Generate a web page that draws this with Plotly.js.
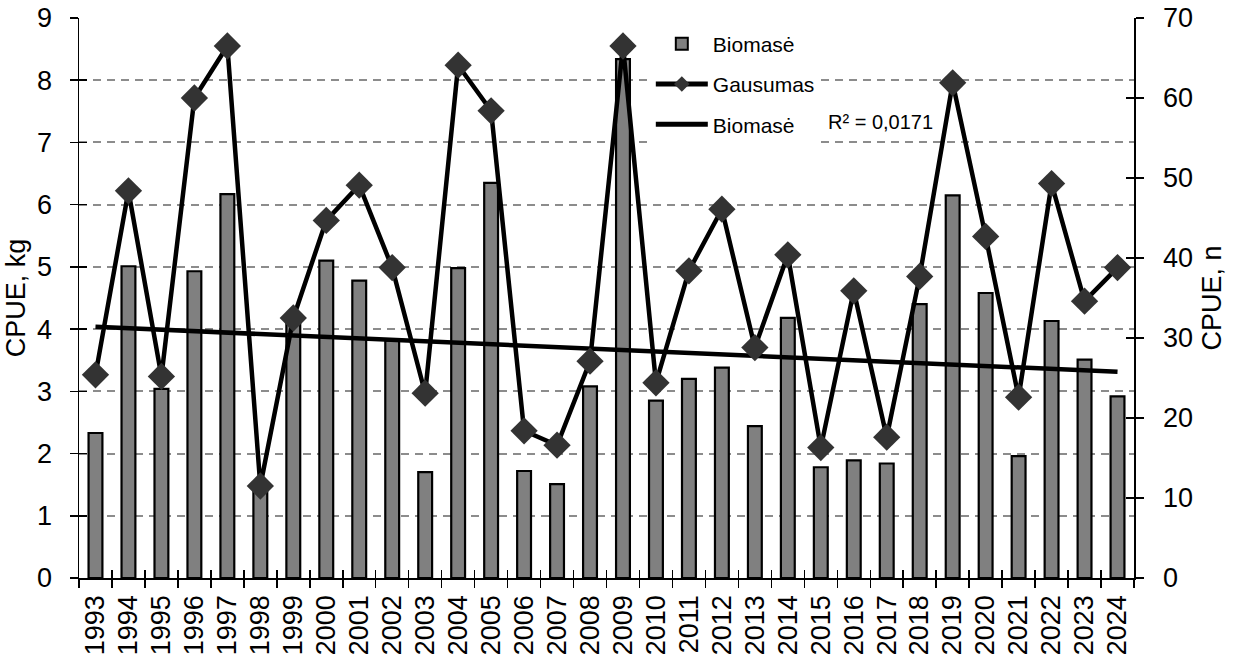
<!DOCTYPE html>
<html>
<head>
<meta charset="utf-8">
<script src="https://cdn.plot.ly/plotly-3.0.1.min.js"></script>
<style>html,body{margin:0;padding:0;background:#fff;}#chart{width:1239px;height:660px;}</style>
</head>
<body>
<div id="chart"></div>
<script>
const years = ['1993','1994','1995','1996','1997','1998','1999','2000','2001','2002','2003','2004','2005','2006','2007','2008','2009','2010','2011','2012','2013','2014','2015','2016','2017','2018','2019','2020','2021','2022','2023','2024'];
const biomass = [2.33,5.01,3.04,4.93,6.17,1.45,4.10,5.10,4.78,3.82,1.70,4.98,6.35,1.72,1.51,3.08,8.34,2.85,3.20,3.38,2.44,4.18,1.78,1.89,1.84,4.40,6.15,4.58,1.96,4.13,3.51,2.92];
const abundance = [25.4,48.4,25.2,60.0,66.5,11.5,32.5,44.7,49.1,38.8,23.1,64.1,58.4,18.4,16.6,27.1,66.5,24.4,38.4,46.1,28.8,40.4,16.3,35.9,17.6,37.7,61.9,42.7,22.6,49.3,34.6,38.8];
const leftTicks = [0,1,2,3,4,5,6,7,8,9];
const rightTicks = [0,10,20,30,40,50,60,70];
const r2Label = 'R² = 0,0171';
const legendNames = ['Biomasė','Gausumas','Biomasė'];
const yTitleLeft = 'CPUE, kg';
const yTitleRight = 'CPUE, n';

// linear least-squares trend of biomass (as Excel's linear trendline)
const n = biomass.length;
const idx = biomass.map((_, i) => i);
const mx = idx.reduce((a, b) => a + b, 0) / n;
const my = biomass.reduce((a, b) => a + b, 0) / n;
let sxy = 0, sxx = 0;
idx.forEach((x, i) => { sxy += (x - mx) * (biomass[i] - my); sxx += (x - mx) * (x - mx); });
const slope = sxy / sxx;
const icpt = my - slope * mx;
const trendX = [years[0], years[n - 1]];
const trendY = [icpt, icpt + slope * (n - 1)];

const font = 'Liberation Sans, Arial, sans-serif';

const traces = [
  {type: 'bar', x: years, y: biomass, name: legendNames[0], xaxis: 'x', yaxis: 'y',
   width: 0.42, marker: {color: '#808080', line: {color: '#000', width: 2.2}},
   legendgroup: 'a', legendrank: 1, hoverinfo: 'skip'},
  {type: 'scatter', mode: 'lines', x: trendX, y: trendY, name: legendNames[2], xaxis: 'x', yaxis: 'y',
   line: {color: '#000', width: 4.5}, legendgroup: 'c', legendrank: 3, hoverinfo: 'skip'},
  {type: 'scatter', mode: 'lines+markers', x: years, y: abundance, name: legendNames[1], xaxis: 'x', yaxis: 'y2',
   line: {color: '#000', width: 4.5}, marker: {symbol: 'diamond', size: 21, color: '#333333', line: {width: 0}},
   legendgroup: 'b', legendrank: 2, hoverinfo: 'skip'},
  {type: 'scatter', mode: 'markers', x: years, y: biomass, xaxis: 'x2', yaxis: 'y3', showlegend: false,
   marker: {opacity: 0}, hoverinfo: 'skip'},
  {type: 'scatter', mode: 'markers', x: years, y: abundance, xaxis: 'x2', yaxis: 'y4', showlegend: false,
   marker: {opacity: 0}, hoverinfo: 'skip'}
];

const tickFont = {family: font, size: 27, color: '#000'};
const titleFont = {family: font, size: 27, color: '#000'};

const layout = {
  width: 1239, height: 660,
  margin: {l: 79, r: 105, t: 18, b: 82, pad: 0},
  paper_bgcolor: '#fff', plot_bgcolor: '#fff',
  font: {family: font, color: '#000'},
  showlegend: true,
  legend: {x: 0.542, y: 0.99, xanchor: 'left', yanchor: 'top', bgcolor: '#fff', borderwidth: 0,
           font: {family: font, size: 21, color: '#000'}, traceorder: 'grouped', tracegroupgap: 10,
           itemsizing: 'constant', itemwidth: 52},
  xaxis: {type: 'category', categoryorder: 'array', categoryarray: years, range: [-0.5, 31.5],
          tickson: 'boundaries', ticks: 'outside', ticklen: 8, tickwidth: 1.5, tickcolor: '#000',
          showline: true, linecolor: '#000', linewidth: 1.5, showgrid: false, zeroline: false,
          tickangle: -90, tickfont: tickFont, ticklabelstandoff: 5},
  yaxis: {range: [0, 9], tickvals: leftTicks, ticks: 'outside', ticklen: 8, tickwidth: 1.5, tickcolor: '#000',
          showline: true, linecolor: '#000', linewidth: 1.5, showgrid: true, gridcolor: '#8c8c8c', gridwidth: 2,
          griddash: '8px,6px', zeroline: false, tickfont: tickFont, ticklabelstandoff: 12,
          title: {text: yTitleLeft, font: titleFont, standoff: 3}},
  yaxis2: {range: [0, 70], tickvals: rightTicks, overlaying: 'y', side: 'right', anchor: 'x',
           ticks: 'outside', ticklen: 8, tickwidth: 1.5, tickcolor: '#000',
           showline: true, linecolor: '#000', linewidth: 1.5, showgrid: false, zeroline: false,
           tickfont: tickFont, ticklabelstandoff: 14,
           title: {text: yTitleRight, font: titleFont, standoff: 10}},
  xaxis2: {type: 'category', categoryorder: 'array', categoryarray: years, range: [-0.5, 31.5], overlaying: 'x',
           anchor: 'y', tickson: 'boundaries', ticks: 'inside', ticklen: 8, tickwidth: 1.5, tickcolor: '#000',
           showticklabels: false, showline: false, showgrid: false, zeroline: false},
  yaxis3: {range: [0, 9], tickvals: leftTicks, overlaying: 'y', side: 'left', anchor: 'x2',
           ticks: 'inside', ticklen: 8, tickwidth: 1.5, tickcolor: '#000',
           showticklabels: false, showline: false, showgrid: false, zeroline: false},
  yaxis4: {range: [0, 70], tickvals: rightTicks, overlaying: 'y', side: 'right', anchor: 'x2',
           ticks: 'inside', ticklen: 8, tickwidth: 1.5, tickcolor: '#000',
           showticklabels: false, showline: false, showgrid: false, zeroline: false},
  annotations: [
    {text: r2Label, xref: 'paper', yref: 'paper', x: 0.708, y: 0.815, xanchor: 'left', yanchor: 'middle',
     showarrow: false, font: {family: font, size: 20, color: '#000'}}
  ]
};

Plotly.newPlot('chart', traces, layout, {staticPlot: true, displayModeBar: false});
</script>
</body>
</html>
